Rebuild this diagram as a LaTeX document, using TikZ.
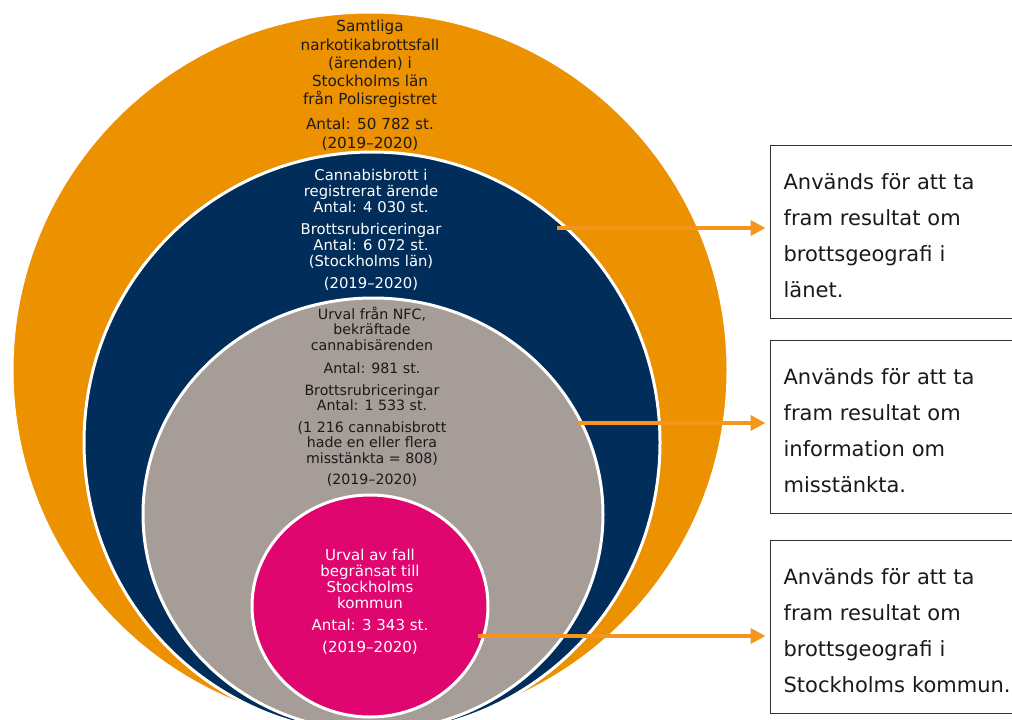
\documentclass[tikz,border=0pt]{standalone}
\usepackage{fontspec}
\setmainfont{DejaVu Sans}
\usetikzlibrary{arrows.meta,shapes.geometric}
\definecolor{corange}{RGB}{236,145,0}
\definecolor{cnavy}{RGB}{0,45,90}
\definecolor{cgray}{RGB}{166,157,152}
\definecolor{cpink}{RGB}{224,6,112}
\definecolor{carrow}{RGB}{247,148,29}
\definecolor{ctext}{RGB}{26,26,26}
\begin{document}
\begin{tikzpicture}[x=1pt,y=-1pt,
  ring/.style={ellipse, draw=white, line width=3pt, inner sep=0pt, outer sep=0pt},
  intext/.style={align=center, inner sep=0pt, anchor=north},
  infobox/.style={draw=black!80, line width=1.2pt, anchor=north west, align=left,
    text width=250pt, inner xsep=13pt, minimum height=173pt, text=ctext,
    text height=24pt, font=\fontsize{21}{36}\selectfont},
  arr/.style={draw=carrow, line width=3.5pt, shorten >=4.5pt,
    -{Triangle[length=15pt,width=15pt]}}
]
\useasboundingbox (0,0) rectangle (1012,720);
% nested sets
\node[ring, fill=corange, minimum width=716pt, minimum height=716pt] (orange) at (370,370) {};
\node[ring, fill=cnavy, minimum width=576pt, minimum height=581pt] (navy) at (372,442.5) {};
\node[ring, fill=cgray, minimum width=460pt, minimum height=433pt] (gray) at (373,514.5) {};
\node[ring, fill=cpink, minimum width=236pt, minimum height=222pt] (pink) at (370,606) {};
% texts
\node[intext, text=ctext, font=\fontsize{15.2}{18.3}\selectfont] (torange) at (370,20)
  {Samtliga\\narkotikabrottsfall\\(ärenden) i\\Stockholms län\\från Polisregistret\\[6.7pt]Antal: 50 782 st.\\(2019--2020)};
\node[intext, text=white, font=\fontsize{14.8}{16}\selectfont] (tnavy) at (371,169)
  {Cannabisbrott i\\registrerat ärende\\Antal: 4 030 st.\\[6pt]Brottsrubriceringar\\Antal: 6 072 st.\\(Stockholms län)\\[6pt](2019--2020)};
\node[intext, text=ctext, font=\fontsize{14.2}{15.3}\selectfont] (tgray) at (372,307)
  {Urval från NFC,\\bekräftade\\cannabisärenden\\[7.7pt]Antal: 981 st.\\[6.7pt]Brottsrubriceringar\\Antal: 1 533 st.\\[6.7pt](1 216 cannabisbrott\\hade en eller flera\\misstänkta = 808)\\[5.7pt](2019--2020)};
\node[intext, text=white, font=\fontsize{15}{16}\selectfont] (tpink) at (370,549)
  {Urval av fall\\begränsat till\\Stockholms\\kommun\\[6pt]Antal: 3 343 st.\\[6pt](2019--2020)};
% boxes
\node[infobox] (b1) at (770,145) {Används för att ta\\fram resultat om\\brottsgeografi i\\länet.};
\node[infobox] (b2) at (770,340) {Används för att ta\\fram resultat om\\information om\\misstänkta.};
\node[infobox] (b3) at (770,540) {Används för att ta\\fram resultat om\\brottsgeografi i\\Stockholms kommun.};
% arrows
\coordinate (s1) at (557,228);
\coordinate (s2) at (578,423);
\coordinate (s3) at (478,636);
\draw[arr] (s1) -- (s1 -| b1.west);
\draw[arr] (s2) -- (s2 -| b2.west);
\draw[arr] (s3) -- (s3 -| b3.west);
\end{tikzpicture}
\end{document}
